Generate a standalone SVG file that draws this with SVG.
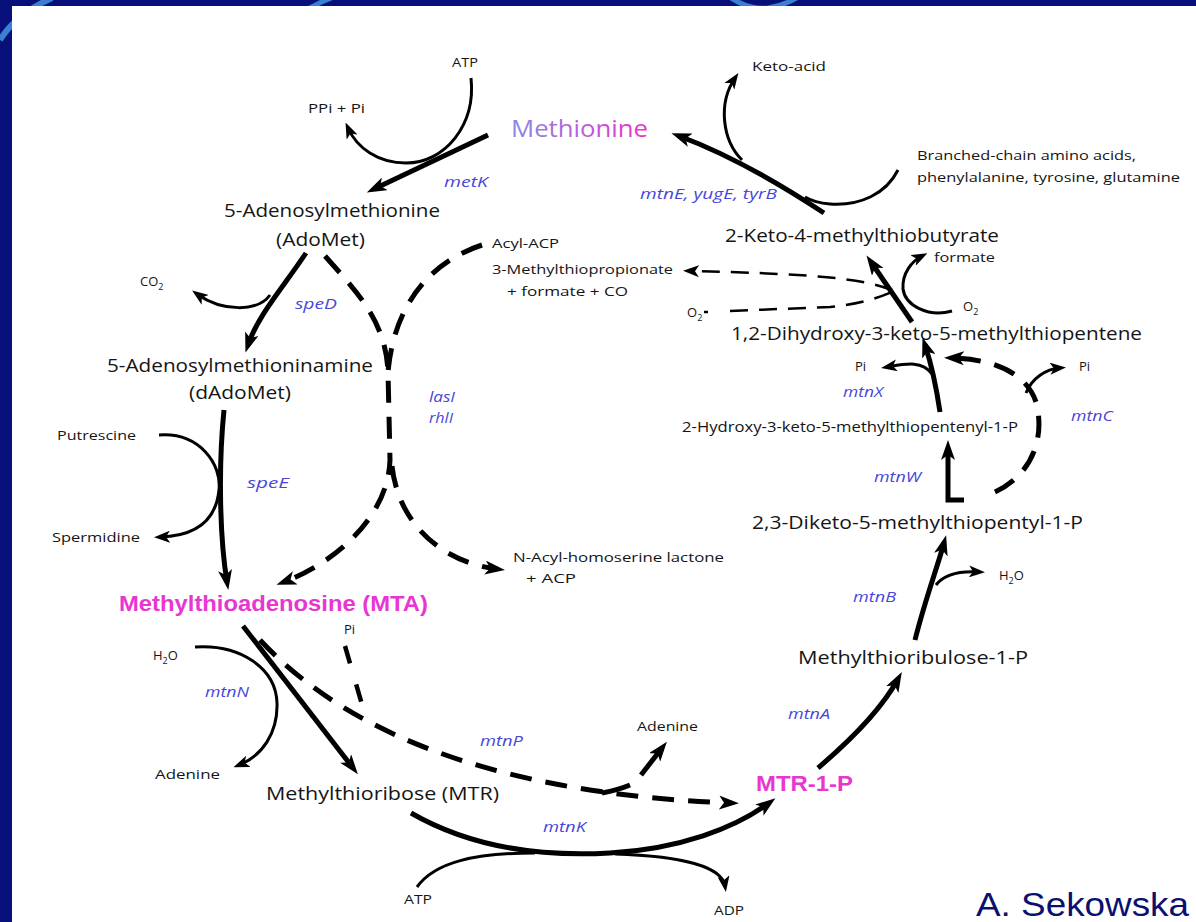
<svg xmlns="http://www.w3.org/2000/svg" width="1196" height="922" viewBox="0 0 1196 922">
<defs>
<linearGradient id="metGrad" x1="0" y1="0" x2="1" y2="0">
<stop offset="0" stop-color="#8a86e4"/><stop offset="0.45" stop-color="#b066da"/><stop offset="1" stop-color="#f030c8"/>
</linearGradient>
<marker id="ah" viewBox="0 0 20 14" refX="12" refY="7" markerWidth="20" markerHeight="14" markerUnits="userSpaceOnUse" orient="auto"><path d="M0,0 L20,7 L0,14 L5,7 z" fill="#000"/></marker>
<marker id="as" viewBox="0 0 16 12" refX="10" refY="6" markerWidth="16" markerHeight="12" markerUnits="userSpaceOnUse" orient="auto"><path d="M0,0 L16,6 L0,12 L4,6 z" fill="#000"/></marker>
<style>
.t{font-family:"Open Sans","Noto Sans",sans-serif;fill:#151515}
.m{font-size:19px}
.s{font-size:13px}
.e{font-family:"Open Sans","Noto Sans",sans-serif;font-style:italic;font-size:14px;fill:#4646dc}
.k{font-family:"Liberation Sans",Arial,sans-serif;font-weight:bold;font-size:22px;fill:#e836d2}
.thick{fill:none;stroke:#000;stroke-width:5}
.thin{fill:none;stroke:#000;stroke-width:3}
.dash{fill:none;stroke:#000;stroke-width:5;stroke-dasharray:22 14}
.tdash{fill:none;stroke:#000;stroke-width:2.5;stroke-dasharray:18 11}
</style>
</defs>

<g id="background">
<rect width="1196" height="922" fill="#07107a"/>
<path d="M0,40 Q16,14 52,-2" stroke="#3a80d0" stroke-width="6" fill="none"/>
<path d="M300,14 Q318,2 342,-6" stroke="#3a80d0" stroke-width="5" fill="none"/>
<path d="M728,-4 Q748,10 768,8 Q790,4 802,-6" stroke="#3a80d0" stroke-width="5" fill="none"/>
<rect x="12" y="6" width="1184" height="916" fill="#ffffff"/>
</g>

<g id="connectors">
<!-- metK -->
<path class="thick" d="M488,135 L374,189" marker-end="url(#ah)"/>
<path class="thin" d="M471,78 C476,125 445,163 406,163 C378,163 357,148 348,128" marker-end="url(#as)"/>
<!-- speD -->
<path class="thick" d="M306,253 C285,285 258,315 248,345" marker-end="url(#ah)"/>
<path class="thin" d="M270,295 C258,312 222,312 197,294" marker-end="url(#as)"/>
<!-- speE -->
<path class="thick" d="M224,410 C218,470 220,540 227,582" marker-end="url(#ah)"/>
<path class="thin" d="M159,435 C200,432 222,465 219,490 C216,520 196,536 160,537" marker-end="url(#as)"/>
<!-- lasI / rhlI -->
<path class="dash" d="M325,256 C355,290 386,320 388,372 L390,460 C388,520 330,565 284,582" marker-end="url(#ah)"/>
<path class="dash" d="M482,245 C430,262 394,305 388,372"/>
<path class="dash" d="M392,466 C398,522 440,562 497,569" marker-end="url(#ah)"/>
<!-- mtnN -->
<path class="thick" d="M243,626 L353,768" marker-end="url(#ah)"/>
<path class="thin" d="M195,647 C240,644 276,668 277,703 C278,733 262,756 239,765" marker-end="url(#as)"/>
<!-- mtnP -->
<path class="dash" d="M260,640 Q400,790 731,803" marker-end="url(#ah)"/>
<path fill="none" stroke="#000" stroke-width="4.5" stroke-dasharray="18 22" d="M345,646 L363,708"/>
<path class="thick" d="M602,793 Q618,790 630,785"/>
<path class="thick" d="M641,775 L662,748" marker-end="url(#ah)"/>
<!-- mtnK -->
<path class="thick" d="M411,813 C470,847 540,857 610,853 C680,849 735,828 769,803" marker-end="url(#ah)"/>
<path class="thin" d="M417,887 C435,862 475,853 535,853"/>
<path class="thin" d="M615,854 C680,856 722,866 725,886" marker-end="url(#as)"/>
<!-- mtnA -->
<path class="thick" d="M818,768 C845,745 880,712 898,679" marker-end="url(#ah)"/>
<!-- mtnB -->
<path class="thick" d="M915,640 C925,600 938,565 944,543" marker-end="url(#ah)"/>
<path class="thin" d="M936,585 C945,573 962,571 979,572" marker-end="url(#as)"/>
<!-- mtnW -->
<path class="thick" d="M964,500 L948,500 L948,448" marker-end="url(#ah)"/>
<!-- mtnX -->
<path class="thick" d="M940,412 C936,385 930,360 925,345" marker-end="url(#ah)"/>
<path class="thin" d="M932,374 C922,360 905,364 887,367" marker-end="url(#as)"/>
<!-- mtnC -->
<path class="dash" d="M995,492 C1030,476 1046,440 1036,402 C1026,372 992,359 952,358" marker-end="url(#ah)"/>
<path class="thin" d="M1026,393 C1032,378 1046,369 1060,368" marker-end="url(#as)"/>
<!-- dioxygenase X -->
<path class="thick" d="M912,322 L871,262" marker-end="url(#ah)"/>
<path class="thin" d="M952,311 C928,318 905,305 903,289 C902,273 912,261 922,256" marker-end="url(#as)"/>
<path class="tdash" d="M892,290 C865,280 830,274 689,271" marker-end="url(#as)"/>
<path fill="none" stroke="#000" stroke-width="2.5" d="M704,312 L708,312"/>
<path class="tdash" d="M730,311 L830,307 C860,304 878,298 892,292"/>
<!-- transaminase -->
<path class="thick" d="M824,213 C780,184 725,153 679,136" marker-end="url(#ah)"/>
<path class="thin" d="M742,160 C722,140 718,103 735,78" marker-end="url(#as)"/>
<path class="thin" d="M898,170 C886,194 860,206 830,204 C818,203 810,200 805,197"/>
</g>

<g id="methionine"><text x="511" y="137" font-family="Open Sans,Noto Sans,sans-serif" font-size="24" textLength="137" lengthAdjust="spacingAndGlyphs" fill="url(#metGrad)">Methionine</text></g>
<g id="atp-top"><text class="t s" x="452" y="67" textLength="26" lengthAdjust="spacingAndGlyphs">ATP</text></g>
<g id="ppi"><text class="t s" x="308" y="113" textLength="57" lengthAdjust="spacingAndGlyphs">PPi + Pi</text></g>
<g id="metK"><text class="e" x="444" y="187" textLength="44" lengthAdjust="spacingAndGlyphs">metK</text></g>
<g id="adomet">
<text class="t m" x="224" y="217" textLength="216" lengthAdjust="spacingAndGlyphs">5-Adenosylmethionine</text>
<text class="t m" x="276" y="246" textLength="89" lengthAdjust="spacingAndGlyphs">(AdoMet)</text>
</g>
<g id="acyl-acp"><text class="t s" x="492" y="248" textLength="67" lengthAdjust="spacingAndGlyphs">Acyl-ACP</text></g>
<g id="mtp">
<text class="t s" x="492" y="274" textLength="181" lengthAdjust="spacingAndGlyphs">3-Methylthiopropionate</text>
<text class="t s" x="507" y="296" textLength="121" lengthAdjust="spacingAndGlyphs">+ formate + CO</text>
</g>
<g id="co2"><text class="t s" x="140" y="286">CO<tspan dy="4" font-size="9">2</tspan></text></g>
<g id="speD"><text class="e" x="295" y="309" textLength="42" lengthAdjust="spacingAndGlyphs">speD</text></g>
<g id="dadomet">
<text class="t m" x="107" y="372" textLength="266" lengthAdjust="spacingAndGlyphs">5-Adenosylmethioninamine</text>
<text class="t m" x="189" y="399" textLength="102" lengthAdjust="spacingAndGlyphs">(dAdoMet)</text>
</g>
<g id="lasI">
<text class="e" x="429" y="402" textLength="26" lengthAdjust="spacingAndGlyphs">lasI</text>
<text class="e" x="429" y="423" textLength="24" lengthAdjust="spacingAndGlyphs">rhlI</text>
</g>
<g id="putrescine"><text class="t s" x="57" y="440" textLength="79" lengthAdjust="spacingAndGlyphs">Putrescine</text></g>
<g id="speE"><text class="e" x="247" y="488" textLength="42" lengthAdjust="spacingAndGlyphs">speE</text></g>
<g id="spermidine"><text class="t s" x="52" y="542" textLength="88" lengthAdjust="spacingAndGlyphs">Spermidine</text></g>
<g id="ahl">
<text class="t s" x="513" y="562" textLength="211" lengthAdjust="spacingAndGlyphs">N-Acyl-homoserine lactone</text>
<text class="t s" x="526" y="583" textLength="50" lengthAdjust="spacingAndGlyphs">+ ACP</text>
</g>
<g id="mta"><text class="k" x="119" y="611" textLength="309" lengthAdjust="spacingAndGlyphs">Methylthioadenosine (MTA)</text></g>
<g id="pi-mtnP"><text class="t s" x="344" y="634">Pi</text></g>
<g id="h2o-left"><text class="t s" x="153" y="660">H<tspan dy="4" font-size="9">2</tspan><tspan dy="-4">O</tspan></text></g>
<g id="mtnN"><text class="e" x="205" y="697" textLength="44" lengthAdjust="spacingAndGlyphs">mtnN</text></g>
<g id="adenine-left"><text class="t s" x="155" y="779" textLength="65" lengthAdjust="spacingAndGlyphs" fill="#333">Adenine</text></g>
<g id="mtr"><text class="t m" x="266" y="800" textLength="233" lengthAdjust="spacingAndGlyphs">Methylthioribose (MTR)</text></g>
<g id="mtnP"><text class="e" x="480" y="746" textLength="43" lengthAdjust="spacingAndGlyphs">mtnP</text></g>
<g id="adenine-right"><text class="t s" x="637" y="731" textLength="61" lengthAdjust="spacingAndGlyphs">Adenine</text></g>
<g id="mtr1p"><text class="k" x="756" y="791" textLength="97" lengthAdjust="spacingAndGlyphs">MTR-1-P</text></g>
<g id="mtnK"><text class="e" x="543" y="832" textLength="43" lengthAdjust="spacingAndGlyphs">mtnK</text></g>
<g id="atp-bottom"><text class="t s" x="404" y="904" textLength="28" lengthAdjust="spacingAndGlyphs">ATP</text></g>
<g id="adp"><text class="t s" x="714" y="915" textLength="30" lengthAdjust="spacingAndGlyphs">ADP</text></g>
<g id="credit"><text x="976" y="916" font-family="Liberation Sans,Arial,sans-serif" font-size="34" fill="#0a1070" textLength="213" lengthAdjust="spacingAndGlyphs">A. Sekowska</text></g>
<g id="mtnA"><text class="e" x="788" y="719" textLength="42" lengthAdjust="spacingAndGlyphs">mtnA</text></g>
<g id="mtru1p"><text class="t m" x="798" y="664" textLength="230" lengthAdjust="spacingAndGlyphs">Methylthioribulose-1-P</text></g>
<g id="mtnB"><text class="e" x="853" y="602" textLength="43" lengthAdjust="spacingAndGlyphs">mtnB</text></g>
<g id="h2o-right"><text class="t s" x="999" y="580">H<tspan dy="4" font-size="9">2</tspan><tspan dy="-4">O</tspan></text></g>
<g id="dk-mtp1p"><text class="t m" x="752" y="529" textLength="331" lengthAdjust="spacingAndGlyphs">2,3-Diketo-5-methylthiopentyl-1-P</text></g>
<g id="mtnW"><text class="e" x="874" y="482" textLength="47" lengthAdjust="spacingAndGlyphs">mtnW</text></g>
<g id="hk-mtp1p"><text class="t" font-size="14" x="682" y="432" textLength="336" lengthAdjust="spacingAndGlyphs">2-Hydroxy-3-keto-5-methylthiopentenyl-1-P</text></g>
<g id="mtnX"><text class="e" x="843" y="397" textLength="40" lengthAdjust="spacingAndGlyphs">mtnX</text></g>
<g id="mtnC"><text class="e" x="1071" y="421" textLength="42" lengthAdjust="spacingAndGlyphs">mtnC</text></g>
<g id="pi-mtnX"><text class="t s" x="855" y="371">Pi</text></g>
<g id="pi-mtnC"><text class="t s" x="1079" y="371">Pi</text></g>
<g id="dhk-mtp"><text class="t m" x="731" y="340" textLength="411" lengthAdjust="spacingAndGlyphs">1,2-Dihydroxy-3-keto-5-methylthiopentene</text></g>
<g id="o2-left"><text class="t s" x="687" y="317">O<tspan dy="4" font-size="9">2</tspan></text></g>
<g id="o2-right"><text class="t s" x="963" y="311">O<tspan dy="4" font-size="9">2</tspan></text></g>
<g id="formate"><text class="t s" x="934" y="262" textLength="61" lengthAdjust="spacingAndGlyphs">formate</text></g>
<g id="kmtb"><text class="t m" x="725" y="242" textLength="274" lengthAdjust="spacingAndGlyphs">2-Keto-4-methylthiobutyrate</text></g>
<g id="mtnE"><text class="e" x="640" y="199" textLength="137" lengthAdjust="spacingAndGlyphs">mtnE, yugE, tyrB</text></g>
<g id="aa-donors">
<text class="t s" x="917" y="160" textLength="219" lengthAdjust="spacingAndGlyphs">Branched-chain amino acids,</text>
<text class="t s" x="917" y="182" textLength="263" lengthAdjust="spacingAndGlyphs">phenylalanine, tyrosine, glutamine</text>
</g>
<g id="keto-acid"><text class="t s" x="752" y="71" textLength="74" lengthAdjust="spacingAndGlyphs">Keto-acid</text></g>
</svg>
